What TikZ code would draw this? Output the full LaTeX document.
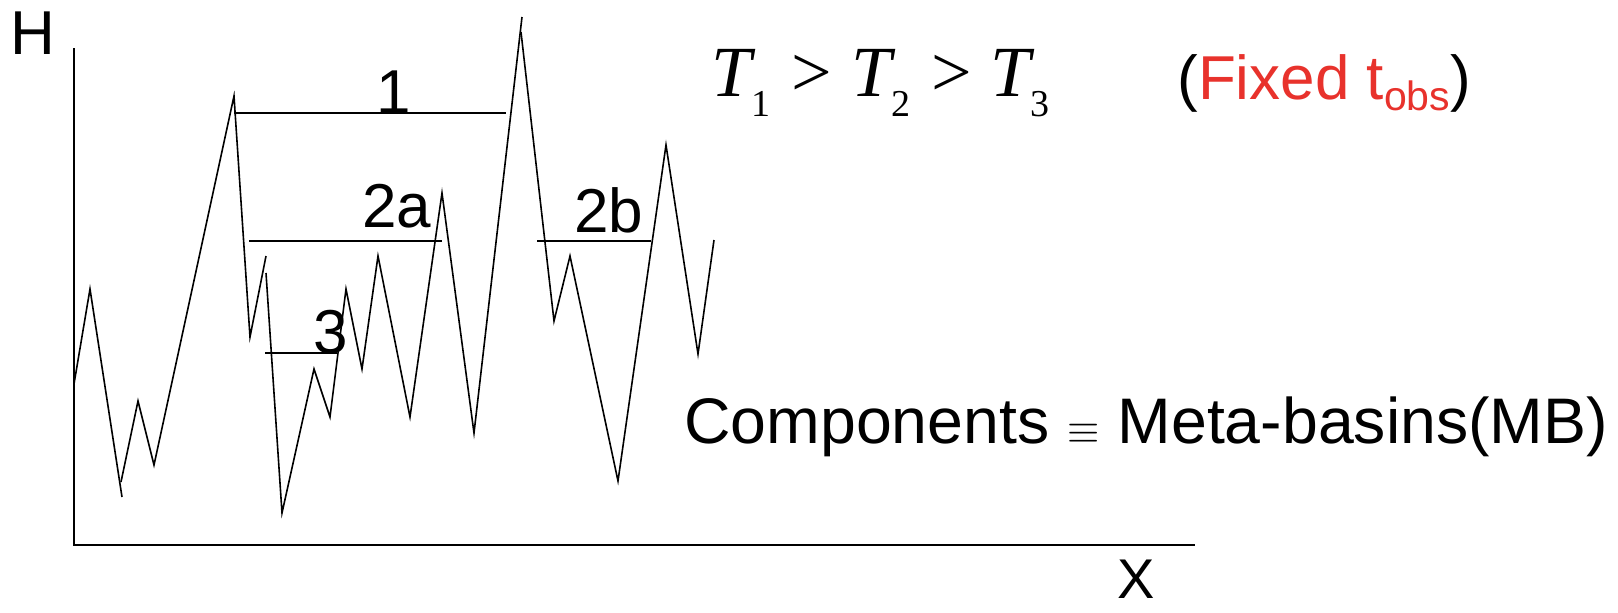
\documentclass[tikz,border=0pt]{standalone}
\usepackage{fontspec}
\setmainfont{Liberation Sans}
\newfontfamily\tms{Liberation Serif}
\usepackage{xcolor}
\usepackage{tikz}
\usetikzlibrary{positioning}
\definecolor{obsred}{RGB}{232,50,44}
\newcommand{\tsub}[1]{\raisebox{-10pt}{\fontsize{19}{19}\selectfont\upshape #1}}
\newcommand{\obssub}[1]{\raisebox{-5.5pt}{\fontsize{20.5}{20.5}\selectfont #1}}
\tikzset{
  lbl/.style={inner sep=0pt, anchor=base, font=\fontsize{31}{31}\selectfont},
  crv/.style={line width=0.8pt},
  lvl/.style={line width=0.9pt},
  ax/.style={line width=1.4pt},
}

\begin{document}
\begin{tikzpicture}[x=0.5pt, y=-0.5pt]
\useasboundingbox (0,0) rectangle (1618,612);

% axes
\coordinate (htop) at (74,48);
\coordinate (orig) at (74,545);
\coordinate (xend) at (1195,545);
\draw[ax] (htop) -- (orig) -- (xend);
\node[lbl, anchor=base west] (hlab) at (10,54) {H};
\node[lbl, font=\fontsize{28}{28}\selectfont] (xlab) at (1136,598) {X};

% landscape
\draw[crv] (74,384) -- (90,289) -- (122,497);
\draw[crv] (121,482) -- (138,401) -- (154,465) -- (234,96) -- (250,337) -- (266,256);
\draw[crv] (266,273) -- (282,513) -- (314,369) -- (330,417) -- (346,289) -- (362,369)
  -- (378,256) -- (410,417) -- (442,193) -- (474,433) -- (522,17);
\draw[crv] (521,32) -- (554,321) -- (570,256) -- (618,481) -- (666,145) -- (698,354) -- (714,240);

% basin levels
\draw[lvl] (234,113) -- (506,113);
\draw[lvl] (249,241) -- (442,241);
\draw[lvl] (265,353) -- (337,353);
\draw[lvl] (537,241) -- (651,241);
\node[lbl] (mb1) at (394,113) {1};
\node[lbl] (mb2a) at (397,227) {2a};
\node[lbl] (mb3) at (331,353) {3};
\node[lbl] (mb2b) at (609,232) {2b};

% texts
\node[anchor=base west, inner sep=0pt, font=\tms\fontsize{36}{36}\selectfont] (temps) at (711,96)
  {{\itshape T}\tsub{1}\hspace{10.5pt}>\hspace{9.5pt}{\itshape T}\tsub{2}\hspace{10.5pt}>\hspace{9.5pt}{\itshape T}\tsub{3}};
\node[lbl, anchor=base west, font=\fontsize{31}{31}\selectfont] (tobs) at (1177,99)
  {(\textcolor{obsred}{Fixed t\obssub{obs}})};
\node[lbl, anchor=base west, font=\fontsize{32.2}{32.2}\selectfont] (comp) at (684,443)
  {Components {\fontsize{20}{20}\selectfont$\equiv$} Meta-basins(MB)};
\end{tikzpicture}
\end{document}
